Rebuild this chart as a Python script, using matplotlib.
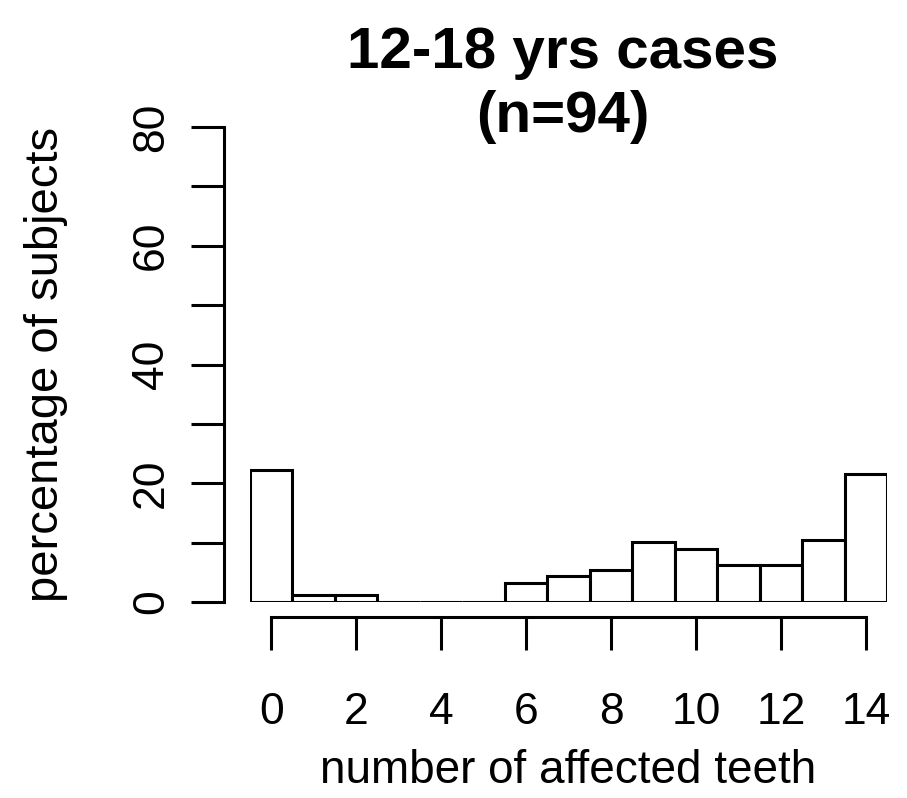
import numpy as np
import matplotlib.pyplot as plt

# percentage of subjects for each number of affected teeth (n=94)
teeth = list(range(15))
percent = [22.3, 1.1, 1.1, 0.0, 0.0, 0.0, 3.2, 4.3, 5.4, 10.1, 8.9, 6.2, 6.2, 10.5, 21.5]
x_ticks = list(range(0, 15, 2))
y_ticks = list(range(0, 81, 10))
y_labels = ['0', '', '20', '', '40', '', '60', '', '80']

plt.rcParams['font.family'] = ['Liberation Sans', 'DejaVu Sans']

W, H = 907, 798
fig = plt.figure(figsize=(W / 100, H / 100), dpi=100)
ax = fig.add_axes([250 / W, 1 - 602 / H, 637 / W, 475 / H])

ax.bar(teeth, percent, width=1.0, color='white', edgecolor='black', linewidth=2.2)
ax.set_xlim(-0.5, 14.5)
ax.set_ylim(0, 80)

for s in ['top', 'right']:
    ax.spines[s].set_visible(False)
ax.spines['left'].set_position(('outward', 19))
ax.spines['left'].set_bounds(0, 80)
ax.spines['bottom'].set_position(('outward', 11))
ax.spines['bottom'].set_bounds(0, 14)
for s in ['left', 'bottom']:
    ax.spines[s].set_linewidth(2.2)

ax.set_xticks(x_ticks)
ax.set_yticks(y_ticks)
ax.set_yticklabels(y_labels, rotation=90, va='center')
ax.tick_params(axis='both', length=24, width=2.2, labelsize=32)
ax.tick_params(axis='x', pad=30)
ax.tick_params(axis='y', pad=13)

ax.set_xlabel('number of affected teeth', fontsize=33)
ax.set_ylabel('percentage of subjects', fontsize=34)
ax.xaxis.set_label_coords(0.5, (602 - 749) / 475)
ax.yaxis.set_label_coords((68 - 250) / 637, 0.5)

fig.text(563 / W, 1 - 68 / H, '12-18 yrs cases', fontsize=42, fontweight='bold',
         ha='center', va='baseline')
fig.text(563 / W, 1 - 132 / H, '(n=94)', fontsize=42, fontweight='bold',
         ha='center', va='baseline')

fig.savefig('out.png', dpi=100)
